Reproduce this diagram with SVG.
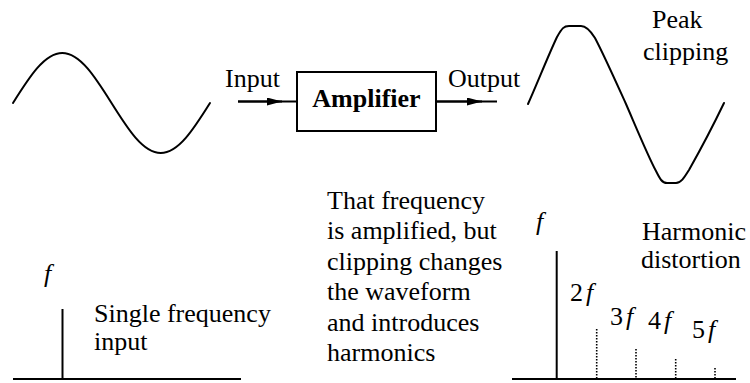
<svg xmlns="http://www.w3.org/2000/svg" width="750" height="383" viewBox="0 0 750 383">
<style>
text{font-family:'Liberation Serif','DejaVu Serif','Noto Serif',serif;font-size:26px;fill:#000}
.b{font-weight:bold}
.i{font-style:italic}
.w{fill:none;stroke:#000;stroke-width:2;stroke-linecap:round;stroke-linejoin:round}
.ln{fill:none;stroke:#000;stroke-width:2}
.dot{fill:none;stroke:#000;stroke-width:1.6;stroke-dasharray:1.4 1.6}
</style>
<defs>
<marker id="ah" viewBox="0 0 15 8" refX="15" refY="4" markerWidth="15" markerHeight="8" markerUnits="userSpaceOnUse" orient="auto">
<path d="M0,0 L15,4 L0,8 Z" fill="#000"/>
</marker>
</defs>
<rect width="750" height="383" fill="#fff"/>
<g id="input-wave">
<path class="w" d="M13,103 C29.06,77.4 44.42,53 62.25,53 C80.08,53 95.44,77.4 111.5,103 C127.56,128.6 142.92,153 160.75,153 C178.58,153 193.94,128.6 210,103"/>
</g>
<g id="output-wave">
<path class="w" d="M528,104 C537,84 548,56 557,37 C562,28 564,26 569,26 L581,26 C586,26 590,30 595,38 C603,53 616,82 626,104 C636,127 648,156 656,171 C660,179 662,183 667,183 L676,183 C681,183 684,178 689,170 C698,154 712,128 724,103"/>
<text font-family="Liberation Serif, DejaVu Serif, serif" x="652" y="28">Peak</text>
<text font-family="Liberation Serif, DejaVu Serif, serif" x="643" y="60">clipping</text>
</g>
<g id="amplifier">
<rect x="297" y="72" width="139" height="59" fill="#fff" stroke="#000" stroke-width="2"/>
<text class="b" font-family="Liberation Serif, DejaVu Serif, serif" x="366.5" y="107" text-anchor="middle">Amplifier</text>
</g>
<g id="connectors">
<line class="ln" x1="238" y1="101.5" x2="297" y2="101.5"/>
<line class="ln" x1="238" y1="101.5" x2="282" y2="101.5" marker-end="url(#ah)"/>
<line class="ln" x1="436" y1="101.5" x2="497" y2="101.5"/>
<line class="ln" x1="436" y1="101.5" x2="482" y2="101.5" marker-end="url(#ah)"/>
<text font-family="Liberation Serif, DejaVu Serif, serif" x="225" y="86.5">Input</text>
<text font-family="Liberation Serif, DejaVu Serif, serif" x="448" y="86.5">Output</text>
</g>
<g id="input-spectrum">
<line class="ln" x1="13" y1="379" x2="241" y2="379"/>
<line class="ln" x1="62.5" y1="309" x2="62.5" y2="379"/>
<text class="i" font-family="Liberation Serif, DejaVu Serif, serif" x="44" y="281.5">f</text>
<text font-family="Liberation Serif, DejaVu Serif, serif" x="94" y="321.5">Single frequency</text>
<text font-family="Liberation Serif, DejaVu Serif, serif" x="94" y="350">input</text>
</g>
<g id="description">
<text font-family="Liberation Serif, DejaVu Serif, serif" x="327" y="209">That frequency</text>
<text font-family="Liberation Serif, DejaVu Serif, serif" x="327" y="239.4">is amplified, but</text>
<text font-family="Liberation Serif, DejaVu Serif, serif" x="327" y="269.8">clipping changes</text>
<text font-family="Liberation Serif, DejaVu Serif, serif" x="327" y="300.2">the waveform</text>
<text font-family="Liberation Serif, DejaVu Serif, serif" x="327" y="330.6">and introduces</text>
<text font-family="Liberation Serif, DejaVu Serif, serif" x="327" y="361">harmonics</text>
</g>
<g id="output-spectrum">
<line class="ln" x1="512" y1="379" x2="736" y2="379"/>
<line class="ln" x1="556.7" y1="251" x2="556.7" y2="379"/>
<line class="dot" x1="596.7" y1="329" x2="596.7" y2="379"/>
<line class="dot" x1="636" y1="349" x2="636" y2="379"/>
<line class="dot" x1="675.7" y1="359" x2="675.7" y2="379"/>
<line class="dot" x1="715" y1="368" x2="715" y2="379"/>
<text class="i" font-family="Liberation Serif, DejaVu Serif, serif" x="536" y="230">f</text>
<text font-family="Liberation Serif, DejaVu Serif, serif" x="570" y="301">2<tspan class="i" dx="3">f</tspan></text>
<text font-family="Liberation Serif, DejaVu Serif, serif" x="610" y="325">3<tspan class="i" dx="3">f</tspan></text>
<text font-family="Liberation Serif, DejaVu Serif, serif" x="648" y="329">4<tspan class="i" dx="3">f</tspan></text>
<text font-family="Liberation Serif, DejaVu Serif, serif" x="692" y="338">5<tspan class="i" dx="3">f</tspan></text>
<text font-family="Liberation Serif, DejaVu Serif, serif" x="642" y="240">Harmonic</text>
<text font-family="Liberation Serif, DejaVu Serif, serif" x="641" y="268">distortion</text>
</g>
</svg>
